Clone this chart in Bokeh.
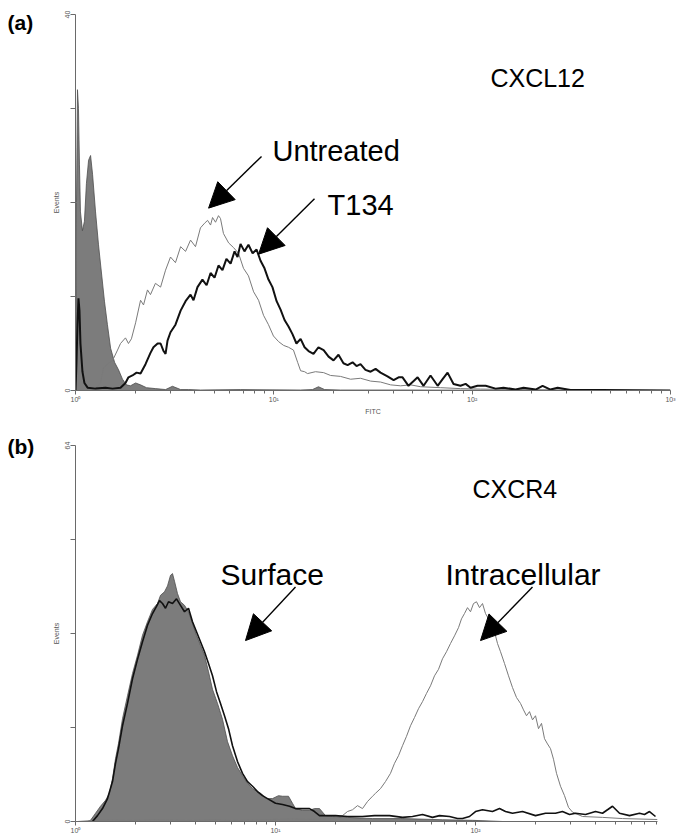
import math
from bokeh.plotting import figure
from bokeh.models import Range1d, FixedTicker, Label, Arrow, NormalHead
from bokeh.layouts import column, row
from bokeh.core.properties import value
from bokeh.embed import file_html
from bokeh.resources import INLINE

FONT = "Liberation Sans"

# ---------------- texts and ticks ----------------
PANEL_LABELS = ["(a)", "(b)"]
X_TICKS = [0, 1, 2, 3]
X_TICK_LABELS = ["10⁰", "10¹", "10²", "10³"]
A_Y_TICKS = [0, 10, 20, 30, 40]
A_Y_TICK_LABELS = ["0", "", "", "", "40"]
B_Y_TICKS = [0, 16, 32, 48, 64]
B_Y_TICK_LABELS = ["0", "", "", "", "64"]

# ---------------- panel (a): CXCL12, x in decades (log10 FITC), y in events ----------------
A_CONTROL_X = [0.000, 0.005, 0.010, 0.015, 0.020, 0.025, 0.035, 0.045, 0.055, 0.066,
               0.076, 0.086, 0.101, 0.116, 0.131, 0.146, 0.161, 0.177, 0.197, 0.217,
               0.237, 0.257, 0.277, 0.303, 0.328, 0.358, 0.403, 0.454, 0.489, 0.530,
               0.570, 0.630, 0.832, 1.135, 1.195, 1.225, 1.256, 1.336, 1.639, 2.143,
               2.648, 3.000]
A_CONTROL_Y = [0, 20, 32, 30, 24, 19, 17, 18, 22, 24.5,
               25, 23, 19, 15.5, 12.5, 9.5, 7, 4.5, 3, 2.2,
               1.2, 0.6, 0.5, 0.8, 0.6, 0.3, 0.2, 0.1, 0.45, 0.1,
               0.1, 0.05, 0.1, 0.05, 0.1, 0.4, 0.1, 0.05, 0.05, 0.03,
               0.02, 0]

A_T134_X = [0.000, 0.005, 0.010, 0.015, 0.020, 0.025, 0.035, 0.045, 0.061, 0.101,
            0.151, 0.187, 0.227, 0.252, 0.267, 0.287, 0.308, 0.328, 0.353, 0.378,
            0.393, 0.414, 0.429, 0.444, 0.454, 0.464, 0.479, 0.504, 0.530, 0.555,
            0.580, 0.595, 0.615, 0.640, 0.661, 0.681, 0.701, 0.721, 0.741, 0.761,
            0.782, 0.802, 0.817, 0.832, 0.852, 0.872, 0.893, 0.913, 0.933, 0.953,
            0.973, 0.993, 1.014, 1.034, 1.054, 1.074, 1.094, 1.114, 1.135, 1.155,
            1.175, 1.200, 1.225, 1.251, 1.276, 1.301, 1.326, 1.351, 1.372, 1.397,
            1.417, 1.437, 1.462, 1.488, 1.513, 1.538, 1.573, 1.604, 1.629, 1.649,
            1.679, 1.705, 1.725, 1.755, 1.790, 1.826, 1.851, 1.876, 1.906, 1.941,
            1.967, 1.992, 2.027, 2.068, 2.118, 2.158, 2.219, 2.259, 2.320, 2.355,
            2.395, 2.431, 2.496, 2.648, 3.000]
A_T134_Y = [0, 3, 7, 9.8, 8.5, 5, 2, 0.8, 0.3, 0.2,
            0.3, 0.2, 0.3, 0.8, 1.4, 1.6, 1.9, 1.8, 2.8, 4.0,
            4.6, 5.0, 5.0, 4.2, 3.9, 5.3, 6.2, 7.0, 8.5, 9.5,
            10.2, 9.6, 11.0, 11.8, 11.2, 12.5, 12.0, 13.3, 12.8, 14.0,
            13.5, 14.8, 14.2, 15.6, 14.8, 15.5, 14.6, 15.0, 13.8, 13.0,
            11.8, 11.0, 9.5, 8.6, 7.5, 6.8, 6.0, 5.0, 5.5, 4.6,
            4.2, 3.9, 4.6, 4.3, 3.6, 3.2, 3.8, 2.9, 2.7, 3.0,
            2.6, 2.8, 2.2, 2.0, 2.3, 1.9, 1.5, 1.1, 1.4, 1.4,
            0.5, 1.0, 1.4, 0.5, 1.6, 0.5, 1.2, 1.9, 0.7, 0.5,
            0.7, 0.3, 0.5, 0.5, 0.2, 0.3, 0.1, 0.3, 0.1, 0.5,
            0.1, 0.3, 0.05, 0.05, 0]

A_UNTREATED_X = [0.075, 0.101, 0.126, 0.141, 0.161, 0.187, 0.212, 0.227, 0.252, 0.267,
                 0.282, 0.303, 0.328, 0.343, 0.363, 0.378, 0.403, 0.429, 0.454, 0.479,
                 0.504, 0.530, 0.555, 0.580, 0.605, 0.630, 0.651, 0.666, 0.681, 0.691,
                 0.706, 0.721, 0.731, 0.746, 0.772, 0.797, 0.822, 0.847, 0.872, 0.898,
                 0.923, 0.948, 0.973, 0.998, 1.024, 1.049, 1.074, 1.099, 1.120, 1.135,
                 1.155, 1.170, 1.210, 1.251, 1.286, 1.336, 1.387, 1.437, 1.488, 1.538,
                 1.589, 1.639, 1.690, 1.740, 1.841, 1.941, 2.042, 2.244, 2.446, 2.800]
A_UNTREATED_Y = [0, 0.2, 0.8, 2.4, 2.8, 3.2, 4.3, 5.0, 5.6, 5.0,
                 5.5, 7.2, 9.6, 9.1, 10.7, 10.2, 11.4, 11.0, 12.8, 14.2,
                 13.6, 15.3, 14.8, 16.0, 15.3, 17.3, 17.8, 18.1, 17.6, 18.4,
                 17.9, 18.6, 18.3, 16.7, 15.7, 15.2, 14.6, 13.0, 12.2, 10.5,
                 9.6, 8.0, 7.0, 5.8, 5.2, 4.8, 4.6, 4.3, 3.0, 2.1,
                 2.0, 1.8, 2.0, 1.9, 1.6, 1.5, 1.2, 1.3, 1.0, 0.9,
                 0.6, 0.5, 0.6, 0.4, 0.3, 0.2, 0.15, 0.1, 0.05, 0]

# ---------------- panel (b): CXCR4 ----------------
B_CONTROL_X = [0.060, 0.075, 0.100, 0.125, 0.150, 0.170, 0.185, 0.200, 0.215, 0.235,
               0.260, 0.285, 0.310, 0.335, 0.360, 0.385, 0.410, 0.425, 0.445, 0.460,
               0.475, 0.485, 0.495, 0.510, 0.525, 0.545, 0.565, 0.585, 0.605, 0.625,
               0.645, 0.665, 0.685, 0.710, 0.735, 0.760, 0.785, 0.810, 0.835, 0.860,
               0.885, 0.925, 0.955, 0.985, 1.015, 1.035, 1.065, 1.085, 1.100, 1.135,
               1.170, 1.195, 1.220, 1.250, 1.285, 1.360, 1.485, 1.635, 1.835, 1.985,
               2.135]
B_CONTROL_Y = [0, 0.2, 1.4, 2.6, 3.6, 4.8, 7.3, 10.7, 13.3, 17.5,
               21.4, 25.2, 28.3, 31.7, 34.0, 36.1, 37.1, 38.5, 39.1, 40.1,
               41.9, 42.2, 40.9, 38.8, 37.4, 36.8, 35.7, 33.7, 31.7, 30.0,
               28.3, 25.5, 22.5, 20.1, 17.4, 13.6, 11.2, 9.2, 7.8, 6.5,
               5.6, 4.8, 3.9, 3.9, 4.4, 4.3, 4.3, 3.1, 2.2, 1.9,
               1.9, 2.2, 2.2, 1.0, 0.85, 0.7, 0.5, 0.5, 0.3, 0.2,
               0]

B_SURFACE_X = [0.085, 0.110, 0.135, 0.160, 0.185, 0.200, 0.215, 0.235, 0.260, 0.285,
               0.310, 0.335, 0.360, 0.385, 0.405, 0.420, 0.435, 0.450, 0.465, 0.485,
               0.505, 0.525, 0.545, 0.565, 0.585, 0.605, 0.625, 0.645, 0.665, 0.685,
               0.705, 0.725, 0.745, 0.765, 0.785, 0.810, 0.835, 0.860, 0.885, 0.910,
               0.935, 0.960, 1.000, 1.035, 1.070, 1.100, 1.135, 1.170, 1.195, 1.220,
               1.260, 1.300, 1.360, 1.435, 1.495, 1.570, 1.635, 1.685, 1.735, 1.785,
               1.820, 1.870, 1.910, 1.935, 1.970, 2.000, 2.035, 2.085, 2.120, 2.150,
               2.185, 2.235, 2.300, 2.350, 2.400, 2.435, 2.470, 2.500, 2.550, 2.600,
               2.635, 2.660, 2.685, 2.720, 2.770, 2.820, 2.845, 2.870, 2.900]
B_SURFACE_Y = [0, 1.0, 2.2, 3.9, 6.8, 9.9, 12.4, 16.3, 20.1, 24.3,
               27.6, 30.6, 33.4, 35.4, 36.6, 37.6, 37.1, 36.3, 37.4, 37.1,
               37.9, 36.8, 35.7, 36.3, 34.0, 32.3, 30.6, 28.9, 26.9, 24.8,
               22.1, 20.1, 18.0, 15.8, 12.9, 10.2, 8.2, 6.8, 6.0, 5.1,
               4.4, 3.9, 3.1, 2.9, 2.6, 2.2, 2.2, 2.2, 1.7, 1.0,
               1.0, 1.0, 0.85, 0.85, 1.0, 1.0, 0.7, 0.85, 1.2, 0.7,
               1.0, 0.85, 0.5, 0.5, 0.85, 1.7, 2.0, 1.7, 2.2, 1.7,
               1.4, 1.7, 1.0, 1.4, 1.4, 1.7, 1.2, 1.4, 1.2, 1.7,
               1.4, 2.0, 2.6, 1.4, 1.0, 1.4, 1.2, 1.7, 0.85]

B_INTRA_X = [0.010, 0.085, 0.185, 0.285, 0.385, 0.485, 0.585, 0.685, 0.785, 0.885,
             0.985, 1.085, 1.185, 1.285, 1.335, 1.360, 1.385, 1.410, 1.435, 1.460,
             1.485, 1.500, 1.525, 1.550, 1.575, 1.595, 1.615, 1.635, 1.655, 1.675,
             1.695, 1.715, 1.735, 1.755, 1.775, 1.795, 1.815, 1.835, 1.855, 1.875,
             1.895, 1.915, 1.930, 1.945, 1.960, 1.975, 1.990, 2.005, 2.020, 2.035,
             2.050, 2.065, 2.080, 2.095, 2.110, 2.125, 2.145, 2.165, 2.185, 2.205,
             2.225, 2.240, 2.255, 2.270, 2.285, 2.300, 2.315, 2.330, 2.345, 2.360,
             2.375, 2.390, 2.405, 2.425, 2.445, 2.465, 2.485, 2.535, 2.635, 2.735,
             2.910]
B_INTRA_Y = [0, 0.17, 0.25, 0.17, 0.34, 0.25, 0.17, 0.34, 0.17, 0.25,
             0.34, 0.42, 0.34, 0.5, 1.0, 1.7, 2.0, 2.7, 2.2, 3.4,
             4.3, 4.8, 5.6, 6.8, 8.2, 9.9, 11.2, 12.9, 14.5, 16.3,
             17.7, 19.2, 20.4, 21.8, 23.1, 24.8, 25.9, 27.7, 28.9, 30.3,
             31.6, 33.0, 34.5, 35.4, 36.4, 35.7, 37.1, 37.4, 36.4, 37.1,
             35.4, 34.5, 33.3, 32.3, 30.3, 28.9, 26.9, 24.8, 22.8, 21.1,
             20.1, 19.0, 18.0, 18.7, 17.3, 18.0, 15.8, 16.7, 14.1, 13.2,
             12.4, 10.6, 8.2, 6.0, 4.4, 2.4, 1.6, 0.85, 0.7, 0.5,
             0.34]

for a, b in [(A_CONTROL_X, A_CONTROL_Y), (A_T134_X, A_T134_Y), (A_UNTREATED_X, A_UNTREATED_Y),
             (B_CONTROL_X, B_CONTROL_Y), (B_SURFACE_X, B_SURFACE_Y), (B_INTRA_X, B_INTRA_Y)]:
    if len(a) != len(b):
        raise ValueError("length mismatch %d %d" % (len(a), len(b)))

AXIS_COLOR = "#6a6a6a"
FILL_COLOR = "#7c7c7c"
SIDE_W = 40


def minor_ticks(xmax):
    out = []
    for d in range(0, 4):
        for k in range(2, 10):
            t = d + math.log10(k)
            if t <= xmax + 1e-9:
                out.append(t)
    return out


def make_fig(xmax, ymax, yticks, ylabels, fw, fh, left, top, right, bottom, xlabel):
    p = figure(frame_width=fw, frame_height=fh,
               x_range=Range1d(0, xmax), y_range=Range1d(0, ymax),
               output_backend="svg", toolbar_location=None)
    p.min_border = 0
    p.min_border_left = left
    p.min_border_top = top
    p.min_border_right = right
    p.min_border_bottom = bottom
    p.outline_line_color = None
    p.grid.visible = False
    p.background_fill_color = "white"
    p.border_fill_color = "white"

    xa = p.xaxis[0]
    xa.ticker = FixedTicker(ticks=X_TICKS, minor_ticks=minor_ticks(xmax))
    xa.major_label_overrides = {t: l for t, l in zip(X_TICKS, X_TICK_LABELS)}
    xa.axis_line_color = AXIS_COLOR
    xa.major_tick_line_color = AXIS_COLOR
    xa.minor_tick_line_color = AXIS_COLOR
    xa.major_tick_in = 0
    xa.major_tick_out = 4
    xa.minor_tick_in = 0
    xa.minor_tick_out = 3
    xa.major_label_standoff = 1
    xa.major_label_text_font = FONT
    xa.major_label_text_font_size = "7px"
    xa.major_label_text_color = "#555555"
    if xlabel:
        xa.axis_label = xlabel
        xa.axis_label_standoff = 2
        xa.axis_label_text_font = FONT
        xa.axis_label_text_font_size = "7px"
        xa.axis_label_text_font_style = "normal"
        xa.axis_label_text_color = "#555555"

    ya = p.yaxis[0]
    ya.ticker = FixedTicker(ticks=yticks)
    ya.major_label_overrides = {t: l for t, l in zip(yticks, ylabels)}
    ya.major_label_orientation = "vertical"
    ya.axis_line_color = AXIS_COLOR
    ya.major_tick_line_color = AXIS_COLOR
    ya.minor_tick_line_color = None
    ya.major_tick_in = 0
    ya.major_tick_out = 5
    ya.major_label_standoff = 1
    ya.major_label_text_font = FONT
    ya.major_label_text_font_size = "7px"
    ya.major_label_text_color = "#555555"
    ya.axis_label = "Events"
    ya.axis_label_standoff = 2
    ya.axis_label_text_font = FONT
    ya.axis_label_text_font_size = "7px"
    ya.axis_label_text_font_style = "normal"
    ya.axis_label_text_color = "#555555"
    return p


def add_text(p, x, y, text, size):
    p.add_layout(Label(x=x, y=y, text=text, text_font=FONT, text_font_size=size,
                       text_color="black", text_align="left", text_baseline="alphabetic"))


def add_arrow(p, x0, y0, x1, y1):
    p.add_layout(Arrow(end=NormalHead(size=25, fill_color="black", line_color="black", line_width=1),
                       x_start=x0, y_start=y0, x_end=x1, y_end=y1,
                       line_color="black", line_width=1.4))


# ---------------- panel (a) ----------------
A_H = 14 + 376 + 24
pa = make_fig(3.0, 40, A_Y_TICKS, A_Y_TICK_LABELS, 595, 376, 75 - SIDE_W, 14, 12, 24, "FITC")
pa.varea(x=A_CONTROL_X, y1=[0] * len(A_CONTROL_X), y2=A_CONTROL_Y, fill_color=FILL_COLOR)
pa.line(A_CONTROL_X, A_CONTROL_Y, line_color="#4e4e4e", line_width=0.8)
pa.line(A_UNTREATED_X, A_UNTREATED_Y, line_color="#7a7a7a", line_width=1.0)
pa.line(A_T134_X, A_T134_Y, line_color="#111111", line_width=2.0)

add_text(pa, 2.092, 33.2, "CXCL12", "25px")
add_text(pa, 0.993, 25.5, "Untreated", "29px")
add_text(pa, 1.271, 19.7, "T134", "29px")
add_arrow(pa, 0.938, 24.9, 0.671, 19.4)
add_arrow(pa, 1.205, 20.4, 0.923, 14.5)

# ---------------- panel (b) ----------------
B_H = 28 + 376 + 14
pb = make_fig(2.91, 64, B_Y_TICKS, B_Y_TICK_LABELS, 582, 376, 73 - SIDE_W, 28, 27, 14, None)
pb.varea(x=B_CONTROL_X, y1=[0] * len(B_CONTROL_X), y2=B_CONTROL_Y, fill_color=FILL_COLOR)
pb.line(B_CONTROL_X, B_CONTROL_Y, line_color="#4e4e4e", line_width=0.8)
pb.line(B_INTRA_X, B_INTRA_Y, line_color="#7a7a7a", line_width=1.0)
pb.line(B_SURFACE_X, B_SURFACE_Y, line_color="#111111", line_width=1.6)

add_text(pb, 1.985, 56.6, "CXCR4", "25px")
add_text(pb, 0.725, 42.0, "Surface", "30px")
add_text(pb, 1.85, 42.0, "Intracellular", "30px")
add_arrow(pb, 1.10, 39.9, 0.85, 30.8)
add_arrow(pb, 2.285, 39.9, 2.025, 30.8)

# ---------------- side strip carrying the panel letters ----------------
TOTAL_H = A_H + B_H
side = figure(width=SIDE_W, height=TOTAL_H, x_range=Range1d(0, SIDE_W), y_range=Range1d(0, TOTAL_H),
              output_backend="svg", toolbar_location=None,
              x_axis_location=None, y_axis_location=None)
side.min_border = 0
side.outline_line_color = None
side.grid.visible = False
side.text(x=[7, 7], y=[TOTAL_H - 10, TOTAL_H - 434], text=PANEL_LABELS, text_font=value(FONT),
          text_font_size="21px", text_font_style="bold", text_color="black",
          text_align="left", text_baseline="top")

layout = row(side, column(pa, pb))
open("out.html", "w").write(file_html(layout, INLINE))
